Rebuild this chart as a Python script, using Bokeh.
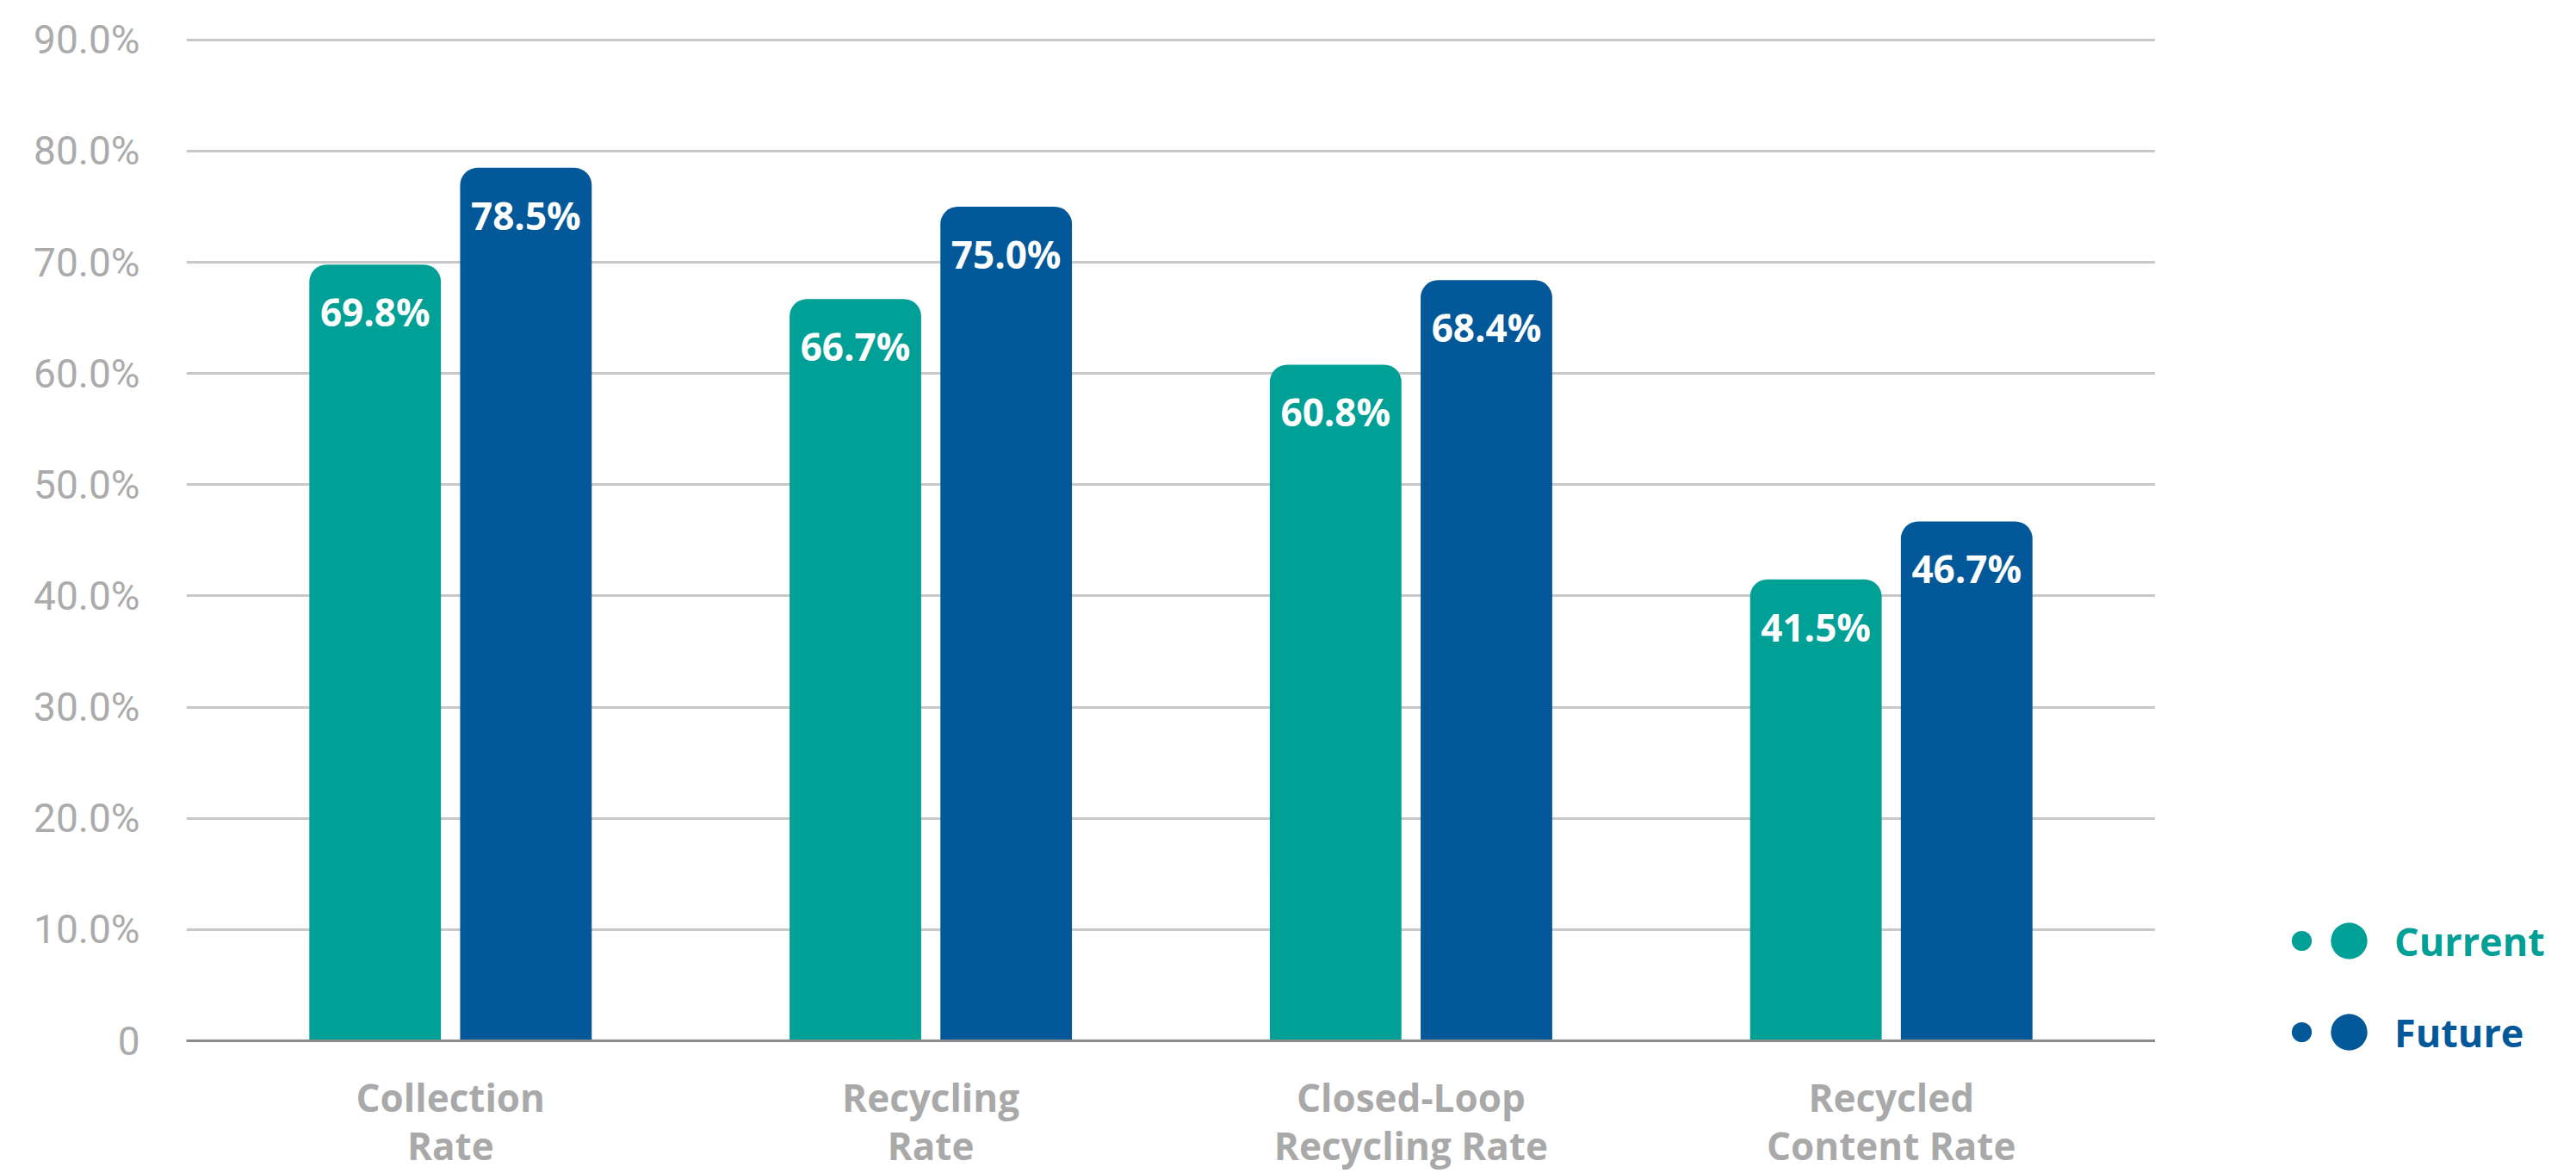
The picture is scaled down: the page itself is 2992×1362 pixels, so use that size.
from bokeh.plotting import figure
from bokeh.layouts import row
from bokeh.models import (FactorRange, FixedTicker, Legend, LegendItem, ColumnDataSource,
                          CategoricalAxis, CustomJSTickFormatter)
from bokeh.transform import dodge
from bokeh.core.properties import value
from bokeh.embed import file_html
from bokeh.resources import INLINE

categories = ["Collection Rate", "Recycling Rate", "Closed-Loop Recycling Rate", "Recycled Content Rate"]
category_line1 = ["Collection", "Recycling", "Closed-Loop", "Recycled"]
category_line2 = ["Rate", "Rate", "Recycling Rate", "Content Rate"]
series_names = ["Current", "Future"]
current = [69.8, 66.7, 60.8, 41.5]
future = [78.5, 75.0, 68.4, 46.7]
y_ticks = [0, 10, 20, 30, 40, 50, 60, 70, 80, 90]
y_tick_labels = ["0", "10.0%", "20.0%", "30.0%", "40.0%", "50.0%", "60.0%", "70.0%", "80.0%", "90.0%"]

TEAL = "#00A096"
BLUE = "#035899"
FONT = "Roboto"
BOLD_FONT = "Open Sans"
CAT_GRAY = "#a9a9a9"

src = ColumnDataSource(dict(
    cat=categories,
    current=current,
    future=future,
    current_label=[f"{v:.1f}%" for v in current],
    future_label=[f"{v:.1f}%" for v in future],
))

p = figure(
    x_range=FactorRange(*categories, range_padding=0.025),
    y_range=(0, 90.3),
    width=2503, height=1362,
    output_backend="svg", toolbar_location=None,
    min_border_left=216, min_border_right=0,
    min_border_top=42, min_border_bottom=152,
    background_fill_color="white", border_fill_color="white",
)
p.outline_line_color = None
p.frame_align = False

# y axis
p.yaxis.ticker = FixedTicker(ticks=y_ticks)
p.yaxis.major_label_overrides = dict(zip(y_ticks, y_tick_labels))
p.yaxis.axis_line_color = None
p.yaxis.major_tick_line_color = None
p.yaxis.minor_tick_line_color = None
p.yaxis.major_label_standoff = 48
p.yaxis.major_label_text_font = FONT
p.yaxis.major_label_text_font_size = "46px"
p.yaxis.major_label_text_color = "#ababab"

# x axis: two stacked axes give the two-line category labels
def line_formatter(lines):
    return CustomJSTickFormatter(args=dict(cats=categories, lines=lines),
                                 code="const i = cats.indexOf(tick); return i >= 0 ? lines[i] : tick;")

p.xaxis.formatter = line_formatter(category_line1)
p.xaxis.axis_line_color = "#8c8c8c"
p.xaxis.axis_line_width = 3
p.xaxis.major_tick_line_color = None
p.xaxis.minor_tick_line_color = None
p.xaxis.major_label_standoff = 29
p.xaxis.major_label_text_font = BOLD_FONT
p.xaxis.major_label_text_font_style = "bold"
p.xaxis.major_label_text_font_size = "44px"
p.xaxis.major_label_text_color = CAT_GRAY

ax2 = CategoricalAxis(
    formatter=line_formatter(category_line2),
    axis_line_color=None, major_tick_line_color=None, minor_tick_line_color=None,
    major_label_standoff=-13, major_label_text_font=BOLD_FONT, major_label_text_font_style="bold",
    major_label_text_font_size="44px", major_label_text_color=CAT_GRAY,
)
p.add_layout(ax2, "below")

p.xgrid.grid_line_color = None
p.ygrid.ticker = FixedTicker(ticks=y_ticks)
p.ygrid.grid_line_color = "#c8c8c8"
p.ygrid.grid_line_width = 3

# bars
OFF = 0.157
W = 0.274
p.vbar(x=dodge("cat", -OFF, range=p.x_range), top="current", width=W, source=src,
       fill_color=TEAL, line_color=None, border_radius=(20, 20, 0, 0))
p.vbar(x=dodge("cat", OFF, range=p.x_range), top="future", width=W, source=src,
       fill_color=BLUE, line_color=None, border_radius=(20, 20, 0, 0))

for off, col in ((-OFF, "current"), (OFF, "future")):
    p.text(x=dodge("cat", off, range=p.x_range), y=col, text=col + "_label", source=src,
           y_offset=55, text_color="white", text_font=value(BOLD_FONT), text_font_style="bold",
           text_font_size="44px", text_align="center", text_baseline="middle")

# legend in its own panel at the right (frame not aligned with the main plot)
lf = figure(width=489, height=1362, output_backend="svg", toolbar_location=None,
            min_border=0, background_fill_color="white", border_fill_color="white")
lf.frame_align = False
lf.outline_line_color = None
lf.xaxis.visible = False
lf.yaxis.visible = False
lf.grid.visible = False

# hidden helper renderers that only supply the legend glyphs
def helper(color):
    return lf.scatter(x="current", y="future", source=src, marker="circle",
                      fill_color=color, line_color=None, visible=False)

small_c, small_f, big_c, big_f = helper(TEAL), helper(BLUE), helper(TEAL), helper(BLUE)

common = dict(padding=0, margin=0, border_line_color=None, background_fill_alpha=0,
              label_text_font=BOLD_FONT, label_text_font_style="bold", label_text_font_size="45px",
              inactive_fill_alpha=0)

leg_small = Legend(items=[LegendItem(label=" ", renderers=[small_c]),
                          LegendItem(label=" ", renderers=[small_f])],
                   location=(141, 135), glyph_width=58, glyph_height=58, spacing=48,
                   label_standoff=0, **common)
leg_c = Legend(items=[LegendItem(label=series_names[0], renderers=[big_c])],
               location=(172, 217), glyph_width=106, glyph_height=106,
               label_standoff=-8, label_text_color=TEAL, **common)
leg_f = Legend(items=[LegendItem(label=series_names[1], renderers=[big_f])],
               location=(172, 111), glyph_width=106, glyph_height=106,
               label_standoff=-8, label_text_color=BLUE, **common)
for lg in (leg_small, leg_c, leg_f):
    lf.add_layout(lg)

layout = row(p, lf, spacing=0)
open("out.html", "w").write(file_html(layout, INLINE))
